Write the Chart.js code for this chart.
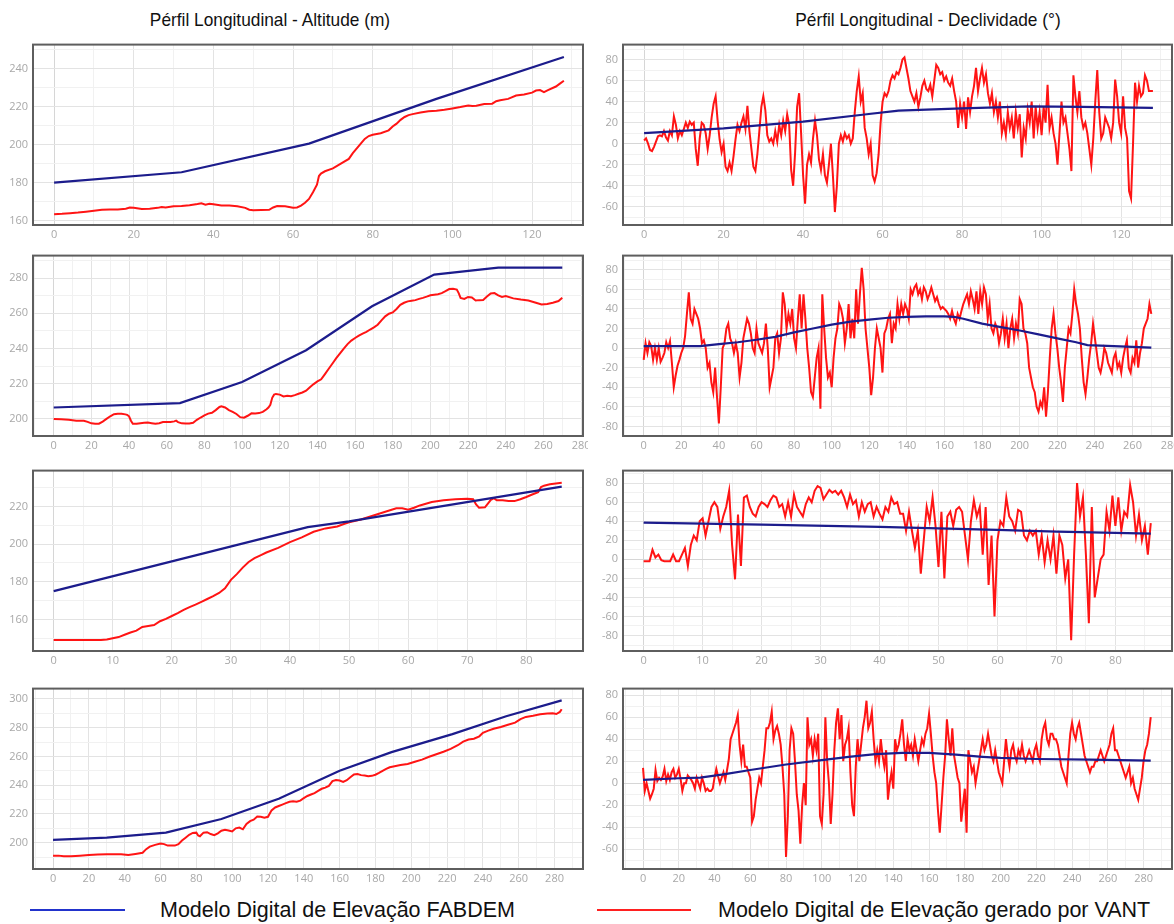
<!DOCTYPE html>
<html>
<head>
<meta charset="utf-8">
<script src="https://cdn.jsdelivr.net/npm/chart.js@4.4.1/dist/chart.umd.min.js"></script>
<style>
  html, body { margin: 0; padding: 0; }
  body { width: 1174px; height: 924px; overflow: hidden; background: #fff; position: relative; }
  .title, .legend-text { position: absolute; font-family: "Liberation Sans Narrow", "Arial Narrow", "Liberation Sans", Arial, sans-serif; color: #111; white-space: nowrap; }
  .title { top: 8px; font-size: 19px; line-height: 24px; text-align: center; width: 400px; transform: scaleX(0.91); transform-origin: 50% 50%; }
  .panel { position: absolute; overflow: hidden; }
  .legend-line { position: absolute; height: 2px; top: 909px; }
  .legend-text { top: 897px; font-size: 21.5px; line-height: 26px; }
</style>
</head>
<body>
<div class="title" style="left:70px">Pérfil Longitudinal - Altitude (m)</div>
<div class="title" style="left:728px">Pérfil Longitudinal - Declividade (°)</div>

<div class="legend-line" style="left:30px;width:95px;background:#2233cc"></div>
<div class="legend-text" style="left:160px">Modelo Digital de Elevação FABDEM</div>
<div class="legend-line" style="left:597px;width:94px;background:#ff2020"></div>
<div class="legend-text" style="left:718px">Modelo Digital de Elevação gerado por VANT</div>

<script>
// ---------- Profile 1 ----------
const distTicks1 = [0, 20, 40, 60, 80, 100, 120];
const altTicks1 = [160, 180, 200, 220, 240];
const slopeTicks1 = [-60, -40, -20, 0, 20, 40, 60, 80];

const fabAlt1X = [0, 32, 64, 96, 128];
const fabAlt1Y = [180, 185.5, 200.5, 224, 246];
const vantAlt1X = [0, 2, 4, 6, 8, 10, 12, 14, 16, 18, 19, 20, 22, 24, 26, 27, 28, 30, 32, 34, 36, 37, 38, 39, 40, 42, 44, 46, 48, 49, 50, 52, 54, 55, 56, 58, 60, 61, 62, 63, 64, 65, 66, 66.5, 67, 68, 70, 72, 74, 75, 76, 77, 78, 79, 80, 82, 84, 85, 86, 87, 88, 89, 90, 92, 94, 96, 98, 100, 102, 104, 105, 106, 108, 110, 111, 112, 114, 116, 118, 120, 121, 122, 123, 124, 126, 127, 128];
const vantAlt1Y = [163.5, 163.7, 164, 164.3, 164.8, 165.3, 165.8, 166, 166, 166.3, 167, 166.8, 166.2, 166.3, 166.8, 167.3, 167, 167.6, 167.8, 168.2, 168.8, 169.2, 168.5, 169, 168.7, 168, 168, 167.6, 166.8, 165.8, 165.6, 165.7, 165.8, 167, 167.8, 167.6, 166.8, 167, 168, 169.5, 171.5, 175, 179, 183.5, 184.8, 186, 187.5, 190, 192.5, 195.5, 198, 200.5, 203, 204.5, 205.2, 206, 207.5, 209.5, 211, 213, 214.5, 215.5, 216, 216.8, 217.5, 217.8, 218.3, 219, 219.7, 220.5, 220.3, 220.4, 221.3, 221.5, 222.8, 223.3, 224, 225.8, 226.3, 227.3, 228.4, 228.6, 227.6, 228.6, 230.5, 232, 233.5];

const fabSlope1X = [0, 20, 40, 56, 64, 80, 97, 110, 128];
const fabSlope1Y = [10, 14.5, 21, 28, 31.5, 33.5, 35.5, 35, 34];
const slopeStep1 = 0.5;
const vantSlope1 = [
  3, 5, 0, -6, -7, -3, 2, 7, 8, 7, 12, 6, 3, 12, 8, 26, 18, 5, 12, 8,
  14, 20, 15, 21, 18, 20, -5, -21, 5, 20, 18, 10, -5, 8, 25, 38, 45, 22, 4, -8,
  0, -22, -26, -18, -26, -12, 4, 18, 12, 20, 26, 14, 36, 12, -5, -22, -26, -10, 12, 35,
  45, 32, 8, 2, 5, 0, 12, 2, 18, 8, 22, 12, 28, 18, -25, -40, -8, 35, 48, 10,
  -30, -57, -20, -10, -18, 5, 22, 8, -15, -25, -10, -30, -37, -20, 0, -30, -65, -40, 0, 8,
  2, 10, 5, 8, 0, 5, 30, 50, 64, 40, 48, 15, 5, -10, 0, -30, -36, -28, -10, 20,
  40, 48, 45, 50, 60, 65, 62, 68, 66, 72, 80, 82, 72, 62, 50, 45, 40, 48, 35, 44,
  55, 60, 52, 50, 56, 45, 60, 75, 72, 66, 68, 60, 64, 58, 55, 62, 50, 40, 15, 38,
  25, 40, 14, 44, 30, 45, 55, 72, 50, 62, 72, 58, 66, 48, 38, 48, 30, 40, 25, 40,
  10, 20, 8, 30, 15, 25, 5, 30, 15, 28,
  -13, 15, 5, 32, 20, 40, 5, 35, 15, 30,
  8, 35, 20, 56, 15, 25, 10, 0, -20, 10,
  40, 20, 25, 10, -5, -26, 65, 45, 30, 50,
  25, 15, 20, 10, -5, -20, 5, 40, 70, 30,
  5, 10, 25, 20, 15, 5, 20, 61, 45, 20,
  10, 45, 15, 5, -45, -52, 0, 58, 40, 55,
  45, 48, 65, 60, 50, 50, 50
];

// ---------- Profile 2 ----------
const distTicks2 = [0, 20, 40, 60, 80, 100, 120, 140, 160, 180, 200, 220, 240, 260, 280];
const altTicks2 = [200, 220, 240, 260, 280];
const slopeTicks2 = [-80, -60, -40, -20, 0, 20, 40, 60, 80];

const fabAlt2X = [0, 67, 100, 134, 169, 202, 236, 270];
const fabAlt2Y = [206.5, 209, 221, 239, 264, 282, 286, 286];
const vantAlt2X = [0, 4, 8, 12, 16, 18, 20, 22, 24, 26, 28, 30, 32, 34, 36, 38, 39, 40, 41, 42, 44, 46, 48, 50, 52, 54, 56, 58, 60, 62, 64, 65, 66, 68, 70, 72, 74, 76, 78, 80, 82, 84, 86, 88, 89, 91, 93, 95, 97, 99, 101, 103, 105, 107, 109, 111, 113, 114, 115, 116, 117, 118, 120, 122, 124, 126, 128, 130, 132, 134, 136, 138, 140, 142, 144, 146, 148, 150, 152, 154, 156, 158, 160, 162, 164, 166, 168, 170, 172, 174, 176, 178, 180, 182, 184, 186, 188, 190, 192, 194, 196, 198, 200, 202, 204, 206, 208, 210, 212, 214, 215, 216, 218, 220, 222, 224, 226, 228, 230, 232, 234, 236, 238, 240, 244, 248, 252, 256, 259, 262, 265, 268, 270];
const vantAlt2Y = [200, 199.8, 199.5, 199, 199, 198.3, 197.5, 197.2, 197.3, 198.5, 200, 201.5, 202.7, 203, 203, 202.6, 202.3, 201.5, 199, 197.3, 197.2, 197.6, 197.8, 197.9, 197.6, 197.3, 197.6, 198.2, 198.3, 198.3, 198.6, 199, 198.2, 197.5, 197.4, 197.4, 197.8, 199.5, 200.8, 202, 203, 203.5, 205, 206.8, 207.2, 206.5, 205, 204, 202.8, 201, 200.7, 201.8, 203.2, 203.1, 203.3, 204, 205.5, 206.5, 208, 212, 213.8, 214.2, 213.8, 212.8, 213.2, 212.9, 213.5, 214.3, 215, 216, 218, 219.8, 221.3, 222.5, 225.5, 228.5, 231.5, 234.5, 237.2, 240, 242.5, 244.5, 246, 247.3, 248.5, 249.5, 250.8, 252, 253.5, 256, 258.3, 259.8, 260.5, 262.5, 264.8, 266, 266.8, 267.2, 267.5, 268.2, 268.8, 269.5, 270.3, 270.6, 270.9, 271.5, 272.6, 273.8, 274, 273.5, 271.5, 268.8, 268.2, 269.3, 269, 267.3, 267.5, 267.6, 269.5, 271.3, 271.5, 270.2, 269.3, 269.8, 268.5, 267.8, 267.3, 266, 265, 265.3, 266, 267, 268.8];

const fabSlope2X = [0, 30, 40, 50, 60, 70, 80, 90, 100, 110, 120, 130, 140, 150, 160, 165, 170, 180, 190, 200, 210, 220, 230, 236, 250, 260, 270];
const fabSlope2Y = [2, 2, 4, 6, 8.5, 11.5, 16, 20, 24, 27, 29, 31, 32, 32.5, 32.5, 32, 30, 25, 21.5, 18, 14, 10, 6, 3, 2, 1.2, 0.5];
const slopeStep2 = 1;
const vantSlope2 = [
  -12, 5, -5, 6, 2, -12, 0, -12, 0, -14,
  -10, -5, 6, 0, 7, -15, -40, -28, -18, -12,
  -5, 0, 12, 35, 57, 30, 25, 40, 35, 30,
  20, 5, 8, 0, -20, -15, -35, -45, -20, -50,
  -77, -40, 0, 5, 20, 25, 10, 5, -5, 5,
  -5, -30, -15, 10, 20, 30, 25, 15, 0, -5,
  20, 5, 0, -5, 5, 25, 0, -40, -30, -20,
  10, 15, -5, 10, 57, 45, 20, 35, 25, 40,
  10, 0, 30, 55, 20, 55, 30, 0, -20, -45,
  -50, -30, -10, 0, -62, 55, 20, -10, -30, -25,
  -40, -10, 10, 20, 45, 40, 30, 5, 20, 45,
  10, 30, 10, 60, 25, 55, 82, 60, 20, 0,
  -20, -48, -30, 0, 20, 10, 0, -25, 15, 20,
  30, 35, 5, 25, 20, 45, 30, 45, 35, 45,
  40, 30, 60, 55, 62, 65, 55, 60, 50, 62,
  58, 50, 55, 62, 55, 48, 52, 45, 40, 42,
  40, 38, 35, 30, 38, 30, 25, 35, 30, 38,
  45, 50, 55, 45, 58, 50, 40, 58, 35, 58,
  45, 62, 55, 30, 45, 20, 15, 25, 20, 5,
  15, 30, 10, 25, 0, 20, 30, 10, 25, 15,
  50, 45, 20, 15, 5, -20, -30, -40, -45, -60,
  -65, -55, -60, -40, -70, -45, -10, 20, 35, 15,
  0, -20, -35, -55, -20, 0, 20, 15, 35, 60,
  45, 35, 20, -10, -35, -47, -30, -10, 5, 25,
  10, -5, -20, -25, -15, 0, -5, -15, -20, -25,
  -10, -5, -20, -15, -25, -10, 0, 8, -20, -25,
  -10, -15, 8, -20, -5, 5, 20, 25, 30, 45, 35
];

// ---------- Profile 3 ----------
const distTicks3 = [0, 10, 20, 30, 40, 50, 60, 70, 80];
const altTicks3 = [160, 180, 200, 220];
const slopeTicks3 = [-80, -60, -40, -20, 0, 20, 40, 60, 80];

const fabAlt3X = [0, 43, 50, 86];
const fabAlt3Y = [175, 209, 212, 230.5];
const vantAlt3X = [0, 4, 8, 9, 10, 11, 12, 13, 14, 15, 16, 17, 18, 19, 20, 21, 22, 23, 24, 25, 26, 27, 28, 29, 30, 31, 32, 33, 34, 35, 36, 38, 40, 42, 44, 46, 48, 49, 50, 52, 54, 56, 58, 59, 60, 61, 62, 64, 66, 68, 70, 71, 71.5, 72, 73, 73.5, 74, 74.5, 75, 76, 77, 78, 79, 80, 81, 82, 82.5, 83, 84, 85, 86];
const vantAlt3Y = [149, 149, 149, 149.3, 150, 150.6, 151.8, 153, 154, 156, 156.5, 157, 159, 160.3, 161.8, 163.3, 165, 166.5, 167.8, 169.3, 170.8, 172.3, 174, 176.5, 181, 184, 187.5, 190.5, 192.5, 194, 195.5, 198, 201, 203.5, 206.5, 208.3, 209.3, 210.5, 211.5, 213, 215, 217, 219, 219, 218.2, 219.3, 220.5, 222.3, 223.3, 223.8, 224, 223.8, 221, 219.3, 219.5, 221.5, 223.5, 224.3, 223.2, 223.3, 222.8, 222.8, 223.8, 225, 226.3, 227.5, 230.3, 231, 231.7, 232.2, 232.6];

const fabSlope3X = [0, 20, 40, 60, 70, 86];
const fabSlope3Y = [38.5, 36.5, 34, 31, 29, 27];
const slopeStep3 = 0.5;
const vantSlope3 = [
  -2, -2, -2, 10, 2, 5, -1, -2, -2, -2,
  5, -2, -2, 5, 12, -7, 15, 25, 20, 40,
  43, 25, 40, 55, 60, 55, 32, 45, 55, 72,
  15, -21, 47, -7, 65, 67, 55, 48, 45, 55,
  60, 58, 55, 62, 67, 65, 55, 58, 45, 60,
  45, 68, 55, 50, 45, 58, 65, 60, 72, 77,
  75, 63, 68, 73, 70, 72, 68, 72, 65, 55,
  68, 58, 62, 45, 60, 50, 58, 60, 45, 55,
  48, 42, 55, 50, 65, 58, 60, 48, 48, 30,
  50, 30, 12, 30, -15, 20, 55, 40, 65, 35,
  -8, 50, -20, 45, 50, 35, 52, 55, 50, 25,
  0, 40, 62, 45, 55, 5, 55, -27, 25, -60,
  20, 40, 35, 65, 45, 40, 30, 52, 50, 25,
  20, 30, 25, 30, 5, 25, -3, 20, 0, 25,
  -15, 25, 15, -20, 0, -85, 5, 80, 45, 65,
  5, -67, 55, -40, -20, 0, 5, 50, 30, 67,
  35, 65, 30, 50, 45, 78, 60, 25, 47, 20,
  35, 5, 38
];

// ---------- Profile 4 ----------
const distTicks4 = [0, 20, 40, 60, 80, 100, 120, 140, 160, 180, 200, 220, 240, 260, 280];
const altTicks4 = [200, 220, 240, 260, 280, 300];
const slopeTicks4 = [-60, -40, -20, 0, 20, 40, 60, 80];

const fabAlt4X = [0, 30, 63, 94, 126, 160, 189, 223, 253, 284];
const fabAlt4Y = [202, 203.5, 207, 216.5, 230.5, 250, 263, 275.5, 288, 299];
const vantAlt4X = [0, 3, 6, 10, 15, 20, 25, 30, 38, 42, 46, 50, 52, 54, 57, 60, 62, 64, 68, 70, 72, 74, 76, 78, 80, 81, 82, 84, 86, 88, 90, 92, 94, 96, 98, 100, 102, 104, 106, 108, 110, 112, 114, 116, 118, 120, 122, 124, 126, 128, 130, 132, 134, 136, 138, 140, 142, 144, 146, 148, 150, 152, 154, 156, 158, 160, 162, 164, 166, 168, 170, 172, 174, 176, 178, 180, 182, 184, 186, 188, 190, 194, 198, 202, 206, 210, 214, 218, 222, 226, 229, 232, 235, 238, 240, 243, 246, 250, 254, 258, 261, 264, 268, 272, 276, 279, 281, 283, 284];
const vantAlt4Y = [191, 191, 190.5, 190.5, 191, 191.5, 191.8, 192, 192, 191.5, 192.2, 193, 195.5, 197.3, 198.5, 199.5, 199, 198, 198, 199, 201.5, 203.5, 205.5, 206.8, 207, 205, 204.5, 207, 207.3, 206, 205.2, 206.5, 208.3, 209, 208.5, 207.8, 210, 210.5, 209.3, 213, 215, 216, 218.2, 218, 217.3, 218, 222.5, 224.5, 225.5, 226.5, 227.5, 228.5, 228.8, 228.5, 229.3, 231, 232.5, 233.5, 234.5, 236, 237.5, 238.3, 239.5, 242.8, 243.6, 243.3, 242.3, 243.5, 245.5, 247.5, 247.8, 247, 246.8, 246.3, 246.5, 247.3, 248.5, 250, 251.3, 252.5, 253, 254, 254.8, 256.3, 257.8, 259.8, 261.5, 263.3, 265.3, 267.8, 270.3, 271.8, 272.3, 274, 276.5, 278, 279.3, 280.5, 282, 283.5, 286, 287.5, 288.3, 289.3, 289.8, 290, 289.5, 291, 292.8];

const fabSlope4X = [0, 20, 32, 45, 60, 80, 100, 115, 130, 145, 160, 175, 190, 200, 220, 250, 284];
const fabSlope4Y = [3, 4.5, 5, 8, 12, 17, 21, 24, 26.5, 27.5, 27.5, 26, 24, 23, 22, 21.5, 20.5];
const slopeStep4 = 1;
const vantSlope4 = [
  14, -7, 0, -7, -14, -10, -5, 12, 2, 5,
  3, 6, 13, 2, 8, 3, 10, 13, 5, 8,
  13, 4, -7, 0, 0, 7, 5, 3, 0, -5,
  5, 0, -5, 5, 0, -7, -5, -7, -7, -5,
  5, 13, 6, 0, 5, 10, 3, 12, 22, 40,
  45, 50, 55, 62, 35, 20, 35, 15, 15, 10,
  5, -35, -30, -15, -5, 5, 0, 15, 30, 50,
  50, 55, 65, 40, 48, 52, 45, 35, 15, -10,
  -67, -30, 30, 50, 45, 20, -10, -25, -55, -20,
  0, -20, 60, 35, 40, 25, 40, 30, 45, -30,
  -37, -10, 60, 20, 0, -37, -10, 30, 55, 68,
  40, 62, 20, 35, 40, 50, 10, -20, -30, 15,
  40, 20, 35, 50, 60, 75, 50, 55, 65, 40,
  20, 30, 20, 40, 25, 15, 30, -15, 0, 10,
  -5, 40, 30, 35, 45, 58, 35, 20, 40, 30,
  35, 25, 40, 30, 20, 30, 40, 35, 45, 50,
  63, 45, 25, 10, 0, -25, -45, -20, 5, 25,
  58, 40, 25, 50, 25, 15, 5, 0, -35, -20,
  -5, -45, 30, 20, 10, 15, 0, 10, 20, 30,
  40, 30, 35, 45, 35, 25, 20, 30, 20, 10,
  5, 0, 20, 40, 25, 15, 30, 35, 25, 20,
  30, 25, 35, 25, 20, 25, 30, 25, 20, 30,
  35, 25, 20, 40, 50, 55, 40, 35, 45, 45,
  40, 40, 35, 25, 15, 10, 5, 0, 25, 45,
  55, 45, 40, 50, 55, 45, 35, 25, 20, 15,
  10, 15, 15, 20, 20, 25, 30, 25, 20, 25,
  30, 35, 45, 50, 30, 30, 25, 20, 15, 10,
  5, 10, 15, 0, 5, -5, -10, -15, -5, 5,
  20, 30, 35, 45, 60
];

// ---------- drawing ----------
const NAVY = '#1c1c8c';
const RED = '#ff1414';
const TICK_COLOR = '#a8a8a8';
const TICK_FONT = { family: '"Open Sans", "Liberation Sans", sans-serif', size: 11 };

// plot frame positions on the page
const rowBoxes = [
  { top: 43, bottom: 225 },
  { top: 254, bottom: 436 },
  { top: 469, bottom: 651 },
  { top: 687, bottom: 869 }
];
const colBoxes = [
  { left: 33, right: 583, clip: 588 },
  { left: 623, right: 1172, clip: 1180 }
];

const framePlugin = {
  id: 'frame',
  afterDraw(chart) {
    const { ctx, chartArea: a } = chart;
    ctx.save();
    ctx.strokeStyle = '#5e5e5e';
    ctx.lineWidth = 2;
    ctx.strokeRect(a.left, a.top, a.right - a.left, a.bottom - a.top);
    ctx.restore();
  }
};

function pairs(xs, ys) {
  return xs.map((x, i) => ({ x: x, y: ys[i] }));
}
function stepped(values, step) {
  return values.map((v, i) => ({ x: i * step, y: v }));
}

// major ticks carry labels; a lighter line sits halfway between them
function gridValues(major, min, max) {
  const half = (major[1] - major[0]) / 2;
  const out = [];
  const first = major[0] - half, last = major[major.length - 1] + half;
  for (const v of [first].concat(major.flatMap(m => [m, m + half]))) {
    if (v >= min && v <= max && v <= last) out.push(v);
  }
  return out;
}

function axisOptions(major, min, max, horizontal, zeroMark) {
  const values = gridValues(major, min, max);
  const majorSet = new Set(major);
  return {
    type: 'linear',
    min: min,
    max: max,
    afterBuildTicks: (axis) => { axis.ticks = values.map(v => ({ value: v })); },
    afterFit: (scale) => {
      if (horizontal) scale.height = 20; else scale.width = 40;
    },
    border: { display: false },
    grid: {
      drawTicks: false,
      lineWidth: 1,
      color: (c) => {
        const v = c.tick ? c.tick.value : null;
        if (v === 0 && zeroMark) return '#d6d6d6';
        return majorSet.has(v) ? '#e3e3e3' : '#f1f1f1';
      }
    },
    ticks: {
      autoSkip: false,
      maxRotation: 0,
      minRotation: 0,
      padding: horizontal ? 3 : 5,
      color: TICK_COLOR,
      font: TICK_FONT,
      callback: (v) => (majorSet.has(v) ? String(v) : '')
    }
  };
}

function makePanel(col, row, cfg) {
  const c = colBoxes[col], r = rowBoxes[row];
  const AXW = 40, PADT = 10, PADR = 16, AXH = 20;
  const w = (c.right - c.left) + AXW + PADR;
  const h = (r.bottom - r.top) + PADT + AXH;
  const left = c.left - AXW, top = r.top - PADT;

  const wrap = document.createElement('div');
  wrap.className = 'panel';
  wrap.style.left = left + 'px';
  wrap.style.top = top + 'px';
  wrap.style.width = Math.min(w, c.clip - left) + 'px';
  wrap.style.height = h + 'px';
  const cv = document.createElement('canvas');
  cv.width = w; cv.height = h;
  cv.style.width = w + 'px'; cv.style.height = h + 'px';
  wrap.appendChild(cv);
  document.body.appendChild(wrap);

  new Chart(cv, {
    type: 'line',
    data: {
      datasets: [
        { data: cfg.fab, borderColor: NAVY, borderWidth: 2.2, pointRadius: 0, tension: 0, order: 0 },
        { data: cfg.vant, borderColor: RED, borderWidth: 2, pointRadius: 0, tension: 0, order: 1 }
      ]
    },
    options: {
      responsive: false,
      animation: false,
      events: [],
      devicePixelRatio: 1,
      layout: { padding: { top: PADT, right: PADR, left: 0, bottom: 0 } },
      plugins: { legend: { display: false }, tooltip: { enabled: false } },
      scales: {
        x: Object.assign(axisOptions(cfg.xTicks, cfg.xMin, cfg.xMax, true, true), { position: 'bottom' }),
        y: Object.assign(axisOptions(cfg.yTicks, cfg.yMin, cfg.yMax, false, cfg.zeroLine), { position: 'left' })
      }
    },
    plugins: [framePlugin]
  });
}

// altitude column
makePanel(0, 0, { fab: pairs(fabAlt1X, fabAlt1Y), vant: pairs(vantAlt1X, vantAlt1Y),
  xTicks: distTicks1, xMin: -5.3, xMax: 132.8, yTicks: altTicks1, yMin: 157.8, yMax: 252.5 });
makePanel(0, 1, { fab: pairs(fabAlt2X, fabAlt2Y), vant: pairs(vantAlt2X, vantAlt2Y),
  xTicks: distTicks2, xMin: -11, xMax: 281, yTicks: altTicks2, yMin: 190.3, yMax: 292.8 });
makePanel(0, 2, { fab: pairs(fabAlt3X, fabAlt3Y), vant: pairs(vantAlt3X, vantAlt3Y),
  xTicks: distTicks3, xMin: -3.5, xMax: 89.6, yTicks: altTicks3, yMin: 143.2, yMax: 239 });
makePanel(0, 3, { fab: pairs(fabAlt4X, fabAlt4Y), vant: pairs(vantAlt4X, vantAlt4Y),
  xTicks: distTicks4, xMin: -11.2, xMax: 295.9, yTicks: altTicks4, yMin: 181.7, yMax: 307.2 });

// slope column
makePanel(1, 0, { fab: pairs(fabSlope1X, fabSlope1Y), vant: stepped(vantSlope1, slopeStep1),
  xTicks: distTicks1, xMin: -5.3, xMax: 132.8, yTicks: slopeTicks1, yMin: -77.3, yMax: 94.2, zeroLine: true });
makePanel(1, 1, { fab: pairs(fabSlope2X, fabSlope2Y), vant: stepped(vantSlope2, slopeStep2),
  xTicks: distTicks2, xMin: -11, xMax: 281, yTicks: slopeTicks2, yMin: -89.8, yMax: 94.5, zeroLine: true });
makePanel(1, 2, { fab: pairs(fabSlope3X, fabSlope3Y), vant: stepped(vantSlope3, slopeStep3),
  xTicks: distTicks3, xMin: -3.5, xMax: 89.6, yTicks: slopeTicks3, yMin: -96.3, yMax: 93.2, zeroLine: true });
makePanel(1, 3, { fab: pairs(fabSlope4X, fabSlope4Y), vant: stepped(vantSlope4, slopeStep4),
  xTicks: distTicks4, xMin: -11.2, xMax: 295.9, yTicks: slopeTicks4, yMin: -78, yMax: 86, zeroLine: true });
</script>
</body>
</html>
